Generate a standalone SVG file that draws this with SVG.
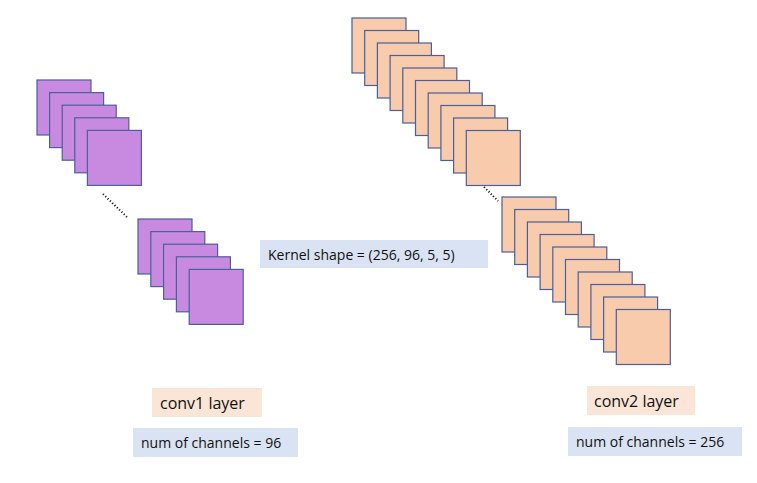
<svg xmlns="http://www.w3.org/2000/svg" width="757" height="483" viewBox="0 0 757 483">
<style>
.p{fill:#c78ae0;stroke:#4a5f9c;stroke-width:1.2}
.o{fill:#f8cbad;stroke:#4a5f9c;stroke-width:1.2}
.dot{stroke:#222;stroke-width:2;stroke-dasharray:1.2 2}
text{font-family:"Open Sans","Liberation Sans",sans-serif;fill:#111}
</style>
<rect width="757" height="483" fill="#fff"/>
<g id="conv1-top">
<rect class="p" x="37" y="80" width="54" height="55"/>
<rect class="p" x="49.6" y="92.6" width="54" height="55"/>
<rect class="p" x="62.2" y="105.2" width="54" height="55"/>
<rect class="p" x="74.8" y="117.8" width="54" height="55"/>
<rect class="p" x="87.4" y="130.4" width="54" height="55"/>
</g>
<g id="conv1-bottom">
<rect class="p" x="138" y="219" width="54" height="55"/>
<rect class="p" x="150.8" y="231.6" width="54" height="55"/>
<rect class="p" x="163.6" y="244.2" width="54" height="55"/>
<rect class="p" x="176.4" y="256.8" width="54" height="55"/>
<rect class="p" x="189.2" y="269.4" width="54" height="55"/>
</g>
<g id="conv2-top">
<rect class="o" x="352" y="18" width="54" height="55"/>
<rect class="o" x="364.7" y="30.5" width="54" height="55"/>
<rect class="o" x="377.4" y="43" width="54" height="55"/>
<rect class="o" x="390.1" y="55.5" width="54" height="55"/>
<rect class="o" x="402.8" y="68" width="54" height="55"/>
<rect class="o" x="415.5" y="80.5" width="54" height="55"/>
<rect class="o" x="428.2" y="93" width="54" height="55"/>
<rect class="o" x="440.9" y="105.5" width="54" height="55"/>
<rect class="o" x="453.6" y="118" width="54" height="55"/>
<rect class="o" x="466.3" y="130.5" width="54" height="55"/>
</g>
<g id="conv2-bottom">
<rect class="o" x="502" y="197" width="54" height="55"/>
<rect class="o" x="514.7" y="209.5" width="54" height="55"/>
<rect class="o" x="527.4" y="222" width="54" height="55"/>
<rect class="o" x="540.1" y="234.5" width="54" height="55"/>
<rect class="o" x="552.8" y="247" width="54" height="55"/>
<rect class="o" x="565.5" y="259.5" width="54" height="55"/>
<rect class="o" x="578.2" y="272" width="54" height="55"/>
<rect class="o" x="590.9" y="284.5" width="54" height="55"/>
<rect class="o" x="603.6" y="297" width="54" height="55"/>
<rect class="o" x="616.3" y="309.5" width="54" height="55"/>
</g>
<g id="connectors">
<line class="dot" x1="103" y1="194" x2="128" y2="218"/>
<line class="dot" x1="484" y1="187" x2="498" y2="201"/>
</g>
<g id="kernel">
<rect x="260" y="240" width="228" height="28" fill="#dae3f3"/>
<text x="268" y="260" font-size="14">Kernel shape = (256, 96, 5, 5)</text>
</g>
<g id="conv1-label">
<rect x="152" y="388" width="110" height="29" fill="#fbe5d6"/>
<text x="160" y="409" font-size="16">conv1 layer</text>
</g>
<g id="conv1-channels">
<rect x="133" y="428" width="165" height="29" fill="#dae3f3"/>
<text x="141" y="448" font-size="14">num of channels = 96</text>
</g>
<g id="conv2-label">
<rect x="587" y="386" width="108" height="29" fill="#fbe5d6"/>
<text x="594" y="407" font-size="16">conv2 layer</text>
</g>
<g id="conv2-channels">
<rect x="568" y="427" width="174" height="29" fill="#dae3f3"/>
<text x="576" y="447" font-size="14">num of channels = 256</text>
</g>
</svg>
